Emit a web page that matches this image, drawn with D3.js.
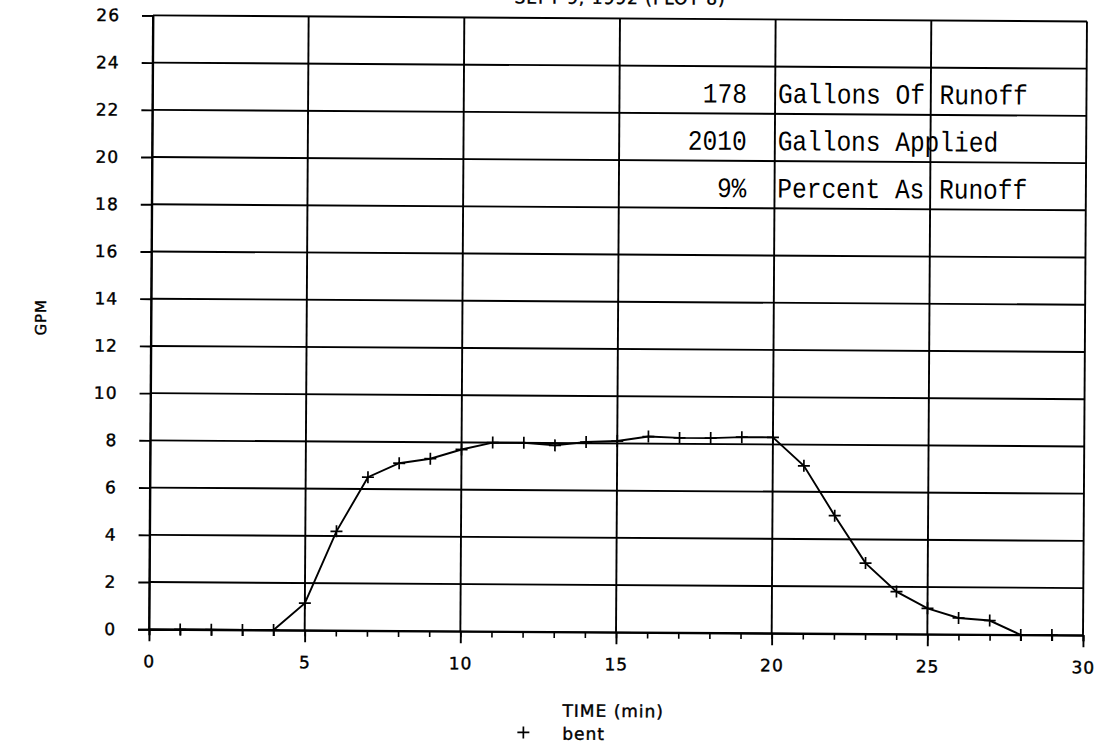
<html>
<head>
<script src="https://d3js.org/d3.v7.min.js"></script>
<style>
  body { margin: 0; background: #fff; }
  text { fill: #000; }
</style>
</head>
<body>
<svg id="vis"></svg>
<script>
  // runoff data
  const timeMin = [1, 2, 3, 4, 5, 6, 7, 8, 9, 10, 11, 12, 13, 14, 15,
                   16, 17, 18, 19, 20, 21, 22, 23, 24, 25, 26, 27, 28, 29];
  const gpm = [0, 0, 0, 0, 1.15, 4.2, 6.5, 7.1, 7.3, 7.7, 8.0, 8.0, 7.9, 8.05, 8.1,
               8.3, 8.25, 8.25, 8.3, 8.3, 7.1, 5.0, 3.0, 1.8, 1.1, 0.7, 0.6, 0, 0];
  const yTicks = [0, 2, 4, 6, 8, 10, 12, 14, 16, 18, 20, 22, 24, 26];
  const xMajor = [0, 5, 10, 15, 20, 25, 30];
  const xMinor = d3.range(0, 31);
  const tableNums = ['178', '2010', '9%'];
  const tableText = ['Gallons Of Runoff', 'Gallons Applied', 'Percent As Runoff'];
  const tableRowY = [22.46, 20.46, 18.46];
  const title = 'SEPT 9, 1992 (PLOT 8)';
  const seriesName = 'bent';

  const width = 1101, height = 747;
  const plotLeft = 151, plotRight = 1085, plotTop = 18.4, plotBottom = 632.3;

  let svg = d3.select('#vis')
    .attr('width', width)
    .attr('height', height)
    .style('font-family', '"DejaVu Sans", sans-serif');

  // the scanned page sits a little crooked
  let g = svg.append('g').attr('transform', 'rotate(0.37, 617, 325)');

  let x = d3.scaleLinear().domain([0, 30]).range([plotLeft, plotRight]);
  let y = d3.scaleLinear().domain([0, 26]).range([plotBottom, plotTop]);

  function labelStyle(sel, size) {
    sel.style('font-size', size + 'px')
      .style('font-family', '"DejaVu Sans", sans-serif')
      .style('letter-spacing', '1px')
      .attr('fill', '#000')
      .attr('stroke', '#000')
      .attr('stroke-width', 0.4);
  }

  // grid
  g.append('g').selectAll('line')
    .data(yTicks).enter().append('line')
    .attr('x1', x(0)).attr('x2', x(30))
    .attr('y1', d => y(d)).attr('y2', d => y(d))
    .attr('stroke', '#000').attr('stroke-width', 1.9);
  g.append('g').selectAll('line')
    .data(xMajor).enter().append('line')
    .attr('x1', d => x(d)).attr('x2', d => x(d))
    .attr('y1', y(0)).attr('y2', y(26))
    .attr('stroke', '#000').attr('stroke-width', 1.9);

  // y axis
  let yAxis = g.append('g')
    .attr('transform', `translate(${plotLeft},0)`)
    .call(d3.axisLeft(y).tickValues(yTicks).tickSize(11).tickPadding(22));
  yAxis.selectAll('line').attr('stroke-width', 1.9);
  yAxis.select('.domain').attr('stroke-width', 1.9);
  labelStyle(yAxis.selectAll('text'), 17);

  // x axis: minor ticks then major ticks with labels
  let xMinorAxis = g.append('g')
    .attr('transform', `translate(0,${plotBottom})`)
    .call(d3.axisBottom(x).tickValues(xMinor).tickSize(6).tickFormat(''));
  xMinorAxis.selectAll('line').attr('stroke-width', 1.6);
  xMinorAxis.select('.domain').attr('stroke-width', 1.9);
  let xAxis = g.append('g')
    .attr('transform', `translate(0,${plotBottom})`)
    .call(d3.axisBottom(x).tickValues(xMajor).tickSize(12).tickPadding(14));
  xAxis.selectAll('line').attr('stroke-width', 1.9);
  xAxis.select('.domain').remove();
  labelStyle(xAxis.selectAll('text'), 17);

  // line + markers
  let pts = timeMin.map((t, i) => ({t: t, v: gpm[i]}));
  let line = d3.line().x(d => x(d.t)).y(d => y(d.v));
  g.append('path')
    .datum(pts)
    .attr('d', line)
    .attr('fill', 'none')
    .attr('stroke', '#000')
    .attr('stroke-width', 1.9);

  function plus(sel, s) {
    sel.append('path')
      .attr('d', `M${-s},0H${s}M0,${-s}V${s}`)
      .attr('stroke', '#000')
      .attr('stroke-width', 1.7)
      .attr('fill', 'none');
  }
  g.append('g').selectAll('g')
    .data(pts).enter().append('g')
    .attr('transform', d => `translate(${x(d.t)},${y(d.v)})`)
    .each(function() { plus(d3.select(this), 6); });

  // text table typed over the grid
  tableNums.forEach((n, i) => {
    g.append('text')
      .attr('transform', `translate(745.5,${y(tableRowY[i])}) scale(1,1.15)`)
      .attr('text-anchor', 'end')
      .style('font-family', '"Liberation Mono", "Courier New", monospace')
      .style('font-size', '24.5px')
      .text(n);
    g.append('text')
      .attr('transform', `translate(776.5,${y(tableRowY[i])}) scale(1,1.15)`)
      .style('font-family', '"Liberation Mono", "Courier New", monospace')
      .style('font-size', '24.5px')
      .text(tableText[i]);
  });

  // labels
  labelStyle(g.append('text')
    .attr('x', (plotLeft + plotRight) / 2).attr('y', 4)
    .attr('text-anchor', 'middle')
    .text(title), 17);
  labelStyle(g.append('text')
    .attr('transform', 'translate(46,321) rotate(-90)')
    .attr('text-anchor', 'middle')
    .text('GPM'), 15);
  labelStyle(g.append('text')
    .attr('x', 565).attr('y', 717)
    .text('TIME (min)'), 17);
  let leg = g.append('g').attr('transform', 'translate(526,733)');
  plus(leg, 6);
  labelStyle(g.append('text')
    .attr('x', 565).attr('y', 740)
    .text(seriesName), 17);
</script>
</body>
</html>
